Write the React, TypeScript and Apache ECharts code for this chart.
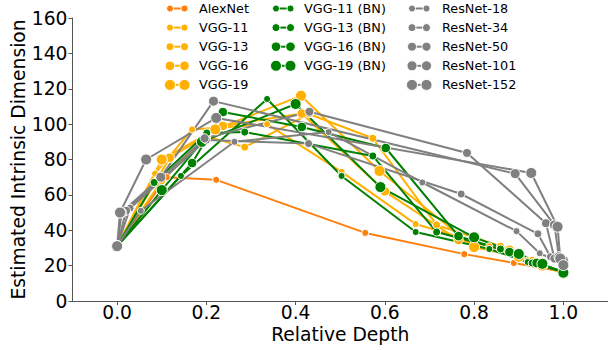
import { useEffect, useRef } from "react";
import * as echarts from "echarts";

// ---- data (relative depth, estimated intrinsic dimension) ----
const alexNet = [[0, 31], [0.111, 70], [0.222, 68.5], [0.556, 38.5], [0.778, 26.5], [0.889, 21.5], [1, 16.5]];
const vgg11 = [[0, 31], [0.085, 72], [0.168, 97], [0.336, 100], [0.503, 73], [0.669, 43.5], [0.834, 31], [0.92, 23], [1, 16]];
const vgg13 = [[0, 31], [0.1, 68], [0.201, 93], [0.286, 87], [0.43, 105.7], [0.573, 92], [0.716, 43], [0.859, 31], [0.93, 23], [1, 16]];
const vgg16 = [[0, 31], [0.118, 81], [0.237, 99], [0.414, 106], [0.6, 62], [0.765, 34.5], [0.879, 29], [0.94, 22], [1, 16]];
const vgg19 = [[0, 31], [0.1, 80], [0.22, 97], [0.412, 116], [0.588, 73.5], [0.8, 30.5], [0.9, 25], [0.953, 20], [1, 15.5]];
const vgg11bn = [[0, 31], [0.143, 70.7], [0.336, 114.2], [0.503, 70.7], [0.669, 39], [0.834, 29.4], [0.92, 22], [1, 16.5]];
const vgg13bn = [[0, 31], [0.083, 67], [0.201, 95], [0.286, 95.5], [0.573, 82], [0.716, 39], [0.859, 29.4], [0.93, 21.5], [1, 16.5]];
const vgg16bn = [[0, 31], [0.168, 78], [0.237, 106.8], [0.414, 98.4], [0.602, 86.5], [0.765, 36.7], [0.879, 27.7], [0.94, 21.5], [1, 16.5]];
const vgg19bn = [[0, 31], [0.1, 62.7], [0.19, 90], [0.4, 111.4], [0.59, 64.4], [0.8, 36], [0.9, 26.6], [0.953, 21], [1, 16]];
const resnet18 = [[0, 31], [0.053, 51], [0.263, 90], [0.474, 95.5], [0.684, 67], [0.895, 39.5], [0.947, 27], [1, 21]];
const resnet34 = [[0, 31], [0.029, 52.5], [0.2, 91], [0.429, 89], [0.771, 60.5], [0.943, 38], [0.971, 25], [1, 21.5]];
const resnet50 = [[0, 31], [0.02, 51], [0.196, 92], [0.431, 107], [0.784, 83.7], [0.961, 44], [0.98, 24], [1, 22]];
const resnet101 = [[0, 31], [0.01, 50], [0.098, 70], [0.216, 113], [0.892, 72], [0.98, 43], [0.99, 25], [1, 23]];
const resnet152 = [[0, 31], [0.0065, 50], [0.065, 80], [0.222, 103.5], [0.928, 72.4], [0.987, 42], [0.993, 24], [1, 20.3]];

const seriesNames = [
  "AlexNet", "VGG-11", "VGG-13", "VGG-16", "VGG-19",
  "VGG-11 (BN)", "VGG-13 (BN)", "VGG-16 (BN)", "VGG-19 (BN)",
  "ResNet-18", "ResNet-34", "ResNet-50", "ResNet-101", "ResNet-152",
];
const seriesData = [
  alexNet, vgg11, vgg13, vgg16, vgg19,
  vgg11bn, vgg13bn, vgg16bn, vgg19bn,
  resnet18, resnet34, resnet50, resnet101, resnet152,
];
const ORANGE = "#ff7f0e";
const YELLOW = "#ffb000";
const GREEN = "#008000";
const GRAY = "#808080";
const seriesColors = [
  ORANGE, YELLOW, YELLOW, YELLOW, YELLOW,
  GREEN, GREEN, GREEN, GREEN,
  GRAY, GRAY, GRAY, GRAY, GRAY,
];
const markerSizes = [7, 7, 8, 9.5, 11, 7, 8, 9.5, 11, 7, 8, 9, 10, 11];
// legend layout: column index and row index for each series
const legendCol = [0, 0, 0, 0, 0, 1, 1, 1, 1, 2, 2, 2, 2, 2];
const legendRow = [0, 1, 2, 3, 4, 0, 1, 2, 3, 0, 1, 2, 3, 4];

const xTicks = [0, 0.2, 0.4, 0.6, 0.8, 1.0];
const FONT = "DejaVu Sans";

function buildOption() {
  const colMarkerX = [170, 276, 412];
  const colTextX = [199, 304, 442];
  const rowY0 = 8.5;
  const rowStep = 19.1;
  const legendEls: any[] = [];
  seriesNames.forEach((name, i) => {
    const c = legendCol[i];
    const y = rowY0 + legendRow[i] * rowStep;
    const x1 = colMarkerX[c];
    const x2 = x1 + 14.5;
    const r = markerSizes[i] / 2;
    legendEls.push({
      type: "line",
      shape: { x1, y1: y, x2, y2: y },
      style: { stroke: seriesColors[i], lineWidth: 2 },
      silent: true,
    });
    legendEls.push({
      type: "circle",
      shape: { cx: x1, cy: y, r },
      style: { fill: seriesColors[i], stroke: "#fff", lineWidth: 1 },
      silent: true,
    });
    legendEls.push({
      type: "circle",
      shape: { cx: x2, cy: y, r },
      style: { fill: seriesColors[i], stroke: "#fff", lineWidth: 1 },
      silent: true,
    });
    legendEls.push({
      type: "text",
      x: colTextX[c],
      y,
      style: {
        text: name,
        fill: "#000",
        font: `12.8px "${FONT}"`,
        verticalAlign: "middle",
        align: "left",
      },
      silent: true,
    });
  });

  return {
    animation: false,
    backgroundColor: "#fff",
    grid: { left: 72.5, right: 0, top: 18, bottom: 49, containLabel: false, outerBoundsMode: "none" },
    xAxis: {
      type: "value",
      min: -0.1,
      max: 1.1,
      name: "Relative Depth",
      nameLocation: "middle",
      nameGap: 24,
      nameMoveOverlap: false,
      nameTextStyle: { fontFamily: FONT, fontSize: 18.7, color: "#000", verticalAlign: "top", lineHeight: 18 },
      axisLine: { show: true, onZero: false, lineStyle: { color: "#555", width: 1 } },
      axisTick: { show: true, customValues: xTicks, length: 4, lineStyle: { color: "#555" } },
      axisLabel: {
        customValues: xTicks,
        formatter: (v: number) => v.toFixed(1),
        fontFamily: FONT,
        fontSize: 18.7,
        lineHeight: 15,
        color: "#000",
        margin: 4,
      },
      splitLine: { show: false },
    },
    yAxis: {
      type: "value",
      min: 0,
      max: 160,
      interval: 20,
      name: "Estimated Intrinsic Dimension",
      nameLocation: "middle",
      nameGap: 45,
      nameMoveOverlap: false,
      nameTextStyle: { fontFamily: FONT, fontSize: 18.7, color: "#000" },
      axisLine: { show: true, onZero: false, lineStyle: { color: "#555", width: 1 } },
      axisTick: { show: true, length: 4, lineStyle: { color: "#555" } },
      axisLabel: { fontFamily: FONT, fontSize: 18.7, color: "#000", margin: 5 },
      splitLine: { show: false },
    },
    series: seriesNames.map((name, i) => ({
      name,
      type: "line",
      data: seriesData[i],
      symbol: "circle",
      symbolSize: markerSizes[i],
      showSymbol: true,
      clip: false,
      lineStyle: { color: seriesColors[i], width: 2 },
      itemStyle: { color: seriesColors[i], borderColor: "#fff", borderWidth: 1 },
      emphasis: { disabled: true },
      z: 2,
    })),
    graphic: legendEls,
  };
}

export default function App() {
  const ref = useRef<HTMLDivElement>(null);
  useEffect(() => {
    const chart = echarts.init(ref.current!, null, { renderer: "svg" });
    chart.setOption(buildOption() as any);
    return () => chart.dispose();
  }, []);
  return (
    <div
      ref={ref}
      style={{ position: "fixed", left: 0, top: 0, width: 608, height: 350, background: "#fff" }}
    />
  );
}
